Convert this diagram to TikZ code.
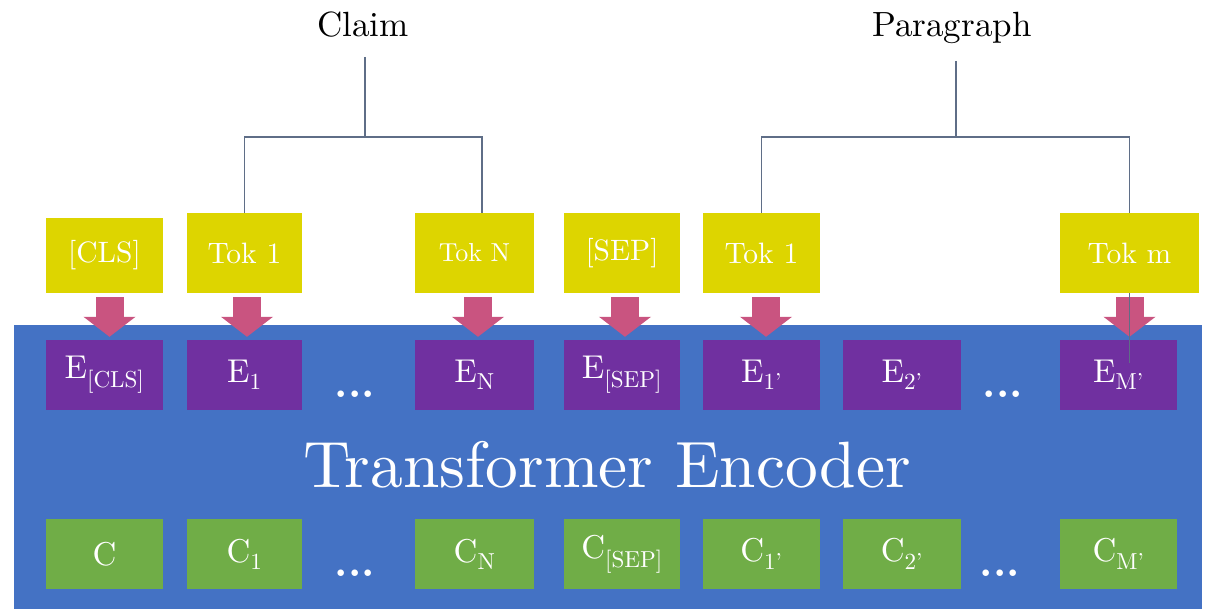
\documentclass[tikz,border=0pt]{standalone}
\usepackage{fontspec}
\setmainfont{lmroman10-regular.otf}[BoldFont=lmroman10-bold.otf]
\usetikzlibrary{arrows.meta,calc}
\definecolor{tokyellow}{RGB}{221,213,0}
\definecolor{embpurple}{RGB}{112,48,160}
\definecolor{encblue}{RGB}{68,114,196}
\definecolor{outgreen}{RGB}{112,173,71}
\definecolor{arrowpink}{RGB}{201,84,128}
\definecolor{treeline}{RGB}{95,110,135}
\begin{document}
\begin{tikzpicture}[x=1pt,y=-1pt,
  tokbox/.style={fill=tokyellow,text=white,minimum height=80pt,inner sep=0pt,font=\fontsize{29.5}{32}\selectfont},
  embbox/.style={fill=embpurple,text=white,minimum height=70pt,inner sep=0pt,font=\fontsize{33}{36}\selectfont},
  outbox/.style={fill=outgreen,text=white,minimum height=70pt,inner sep=0pt,font=\fontsize{33}{36}\selectfont},
  dotsnode/.style={text=white,inner sep=0pt,anchor=base,font=\fontsize{42}{46}\selectfont\bfseries},
  tree/.style={draw=treeline,line width=1.8pt},
  feed/.style={draw=arrowpink,line width=28pt,-{Triangle[width=51pt,length=20pt]},shorten <=4pt,shorten >=3pt},
  toplabel/.style={anchor=base,inner sep=0pt,font=\fontsize{35}{40}\selectfont}]
\useasboundingbox (0,0) rectangle (1208,609);
% encoder background
\node[fill=encblue,minimum width=1188pt,minimum height=290pt,inner sep=0pt,anchor=north west] (enc) at (14,325) {};
\node[text=white,anchor=base,inner sep=0pt,font=\fontsize{65.5}{70}\selectfont] (enctext) at (607,488) {Transformer Encoder};
% top labels
\node[toplabel] (claim) at (363,37) {Claim};
\node[toplabel] (para) at (952,37) {Paragraph};
% tokens
\node[tokbox,minimum width=117pt,minimum height=75pt] (cls) at (104.5,255.5) {[CLS]};
\node[tokbox,minimum width=115pt] (tok1) at (244.5,253) {Tok 1};
\node[tokbox,minimum width=119pt,font=\fontsize{26}{30}\selectfont] (tokN) at (474.5,253) {Tok N};
\node[tokbox,minimum width=116pt] (sep) at (622,253) {[SEP]};
\node[tokbox,minimum width=117pt] (tok1p) at (761.5,253) {Tok 1};
\node[tokbox,minimum width=139pt] (tokm) at (1129.5,253) {Tok m};
% embeddings
\node[embbox,minimum width=117pt] (ecls) at (104.5,375) {E\textsubscript{[CLS]}};
\node[embbox,minimum width=115pt] (e1) at (244.5,375) {E\textsubscript{1}};
\node[embbox,minimum width=119pt] (eN) at (474.5,375) {E\textsubscript{N}};
\node[embbox,minimum width=116pt] (esep) at (622,375) {E\textsubscript{[SEP]}};
\node[embbox,minimum width=117pt] (e1p) at (761.5,375) {E\textsubscript{1’}};
\node[embbox,minimum width=118pt] (e2p) at (902,375) {E\textsubscript{2’}};
\node[embbox,minimum width=117pt] (eMp) at (1118.5,375) {E\textsubscript{M’}};
\node[dotsnode] (edots1) at (355,398) {...};
\node[dotsnode] (edots2) at (1003,398) {...};
% outputs
\node[outbox,minimum width=117pt] (c0) at (104.5,554) {C};
\node[outbox,minimum width=115pt] (c1) at (244.5,554) {C\textsubscript{1}};
\node[outbox,minimum width=119pt] (cN) at (474.5,554) {C\textsubscript{N}};
\node[outbox,minimum width=116pt] (csep) at (622,554) {C\textsubscript{[SEP]}};
\node[outbox,minimum width=117pt] (c1p) at (761.5,554) {C\textsubscript{1’}};
\node[outbox,minimum width=118pt] (c2p) at (902,554) {C\textsubscript{2’}};
\node[outbox,minimum width=117pt] (cMp) at (1118.5,554) {C\textsubscript{M’}};
\node[dotsnode] (cdots1) at (355,576) {...};
\node[dotsnode] (cdots2) at (1000,576) {...};
% feed arrows
\draw[feed] ([xshift=5pt]cls.south) -- ([xshift=5pt]ecls.north);
\draw[feed] ([xshift=2.5pt]tok1.south) -- ([xshift=2.5pt]e1.north);
\draw[feed] ([xshift=3.5pt]tokN.south) -- ([xshift=3.5pt]eN.north);
\draw[feed] ([xshift=3pt]sep.south) -- ([xshift=3pt]esep.north);
\draw[feed] ([xshift=4.5pt]tok1p.south) -- ([xshift=4.5pt]e1p.north);
\draw[feed] (tokm.south) -- (tokm.south |- eMp.north);
% trees
\coordinate (claimtop) at (365,57);
\coordinate (claimjoin) at (365,137);
\coordinate (claimR) at (482,213);
\draw[tree] (claimtop) -- (claimjoin);
\draw[tree] (tok1.north) |- (claimjoin) -| (claimR);
\coordinate (paratop) at (956,61);
\coordinate (parajoin) at (956,137);
\draw[tree] (paratop) -- (parajoin);
\draw[tree] (tok1p.north) |- (parajoin) -| (tokm.north);
\coordinate (stray) at (1129.5,363);
\draw[tree,line width=1.3pt] (tokm.south) -- (stray);
\end{tikzpicture}
\end{document}
